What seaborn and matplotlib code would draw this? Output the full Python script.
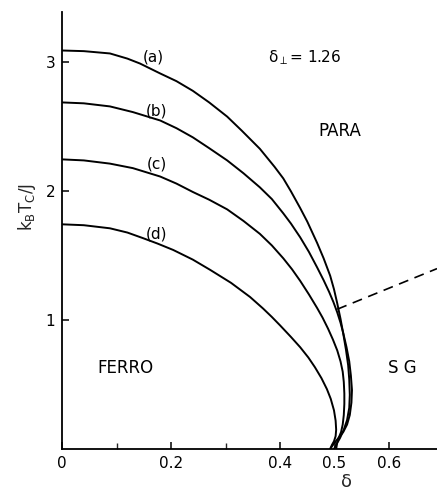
import matplotlib
matplotlib.use("Agg")
import matplotlib.pyplot as plt
import seaborn as sns
import pandas as pd

# ---- data ----
a_x = [0.0, 0.04, 0.088, 0.12, 0.143, 0.180, 0.21, 0.240, 0.27, 0.303, 0.33, 0.363, 0.39, 0.406, 0.42,
       0.437, 0.45, 0.468, 0.48, 0.492, 0.499, 0.505, 0.511, 0.516, 0.521, 0.525, 0.527, 0.528, 0.527,
       0.523, 0.517, 0.510, 0.504, 0.499]
a_y = [3.093, 3.088, 3.070, 3.03, 2.992, 2.915, 2.855, 2.78, 2.69, 2.58, 2.47, 2.33, 2.19, 2.1, 2.0,
       1.87, 1.765, 1.6, 1.48, 1.345, 1.24, 1.13, 1.01, 0.895, 0.77, 0.65, 0.54, 0.42, 0.32,
       0.225, 0.15, 0.085, 0.04, 0.0]

b_x = [0.0, 0.04, 0.088, 0.13, 0.18, 0.21, 0.240, 0.27, 0.303, 0.333, 0.363, 0.385, 0.406, 0.42, 0.437,
       0.453, 0.468, 0.48, 0.49, 0.498, 0.505, 0.511, 0.516, 0.522, 0.527, 0.530, 0.532, 0.531, 0.528,
       0.523, 0.516, 0.508, 0.501, 0.496, 0.492]
b_y = [2.690, 2.683, 2.659, 2.615, 2.550, 2.49, 2.419, 2.335, 2.240, 2.14, 2.031, 1.94, 1.829, 1.75, 1.643,
       1.53, 1.41, 1.31, 1.22, 1.14, 1.06, 0.98, 0.9, 0.79, 0.68, 0.57, 0.457, 0.36, 0.264,
       0.19, 0.132, 0.09, 0.054, 0.025, 0.0]

c_x = [0.0, 0.04, 0.088, 0.13, 0.18, 0.21, 0.24, 0.27, 0.303, 0.333, 0.363, 0.385, 0.406, 0.422, 0.437,
       0.453, 0.468, 0.478, 0.488, 0.497, 0.505, 0.511, 0.515, 0.517, 0.518, 0.518, 0.517, 0.515, 0.512,
       0.508, 0.505, 0.503]
c_y = [2.248, 2.24, 2.215, 2.18, 2.115, 2.06, 1.995, 1.935, 1.86, 1.77, 1.67, 1.58, 1.48, 1.395, 1.305,
       1.2, 1.095, 1.02, 0.935, 0.85, 0.765, 0.68, 0.6, 0.52, 0.43, 0.35, 0.264, 0.19, 0.132,
       0.09, 0.054, 0.0]

d_x = [0.0, 0.04, 0.088, 0.12, 0.149, 0.175, 0.204, 0.24, 0.272, 0.31, 0.345, 0.369, 0.385, 0.400, 0.42,
       0.437, 0.452, 0.464, 0.476, 0.486, 0.493, 0.499, 0.502, 0.503, 0.502, 0.499, 0.495, 0.492]
d_y = [1.744, 1.737, 1.713, 1.68, 1.636, 1.595, 1.545, 1.47, 1.39, 1.29, 1.18, 1.09, 1.025, 0.96, 0.87,
       0.79, 0.71, 0.635, 0.55, 0.465, 0.39, 0.30, 0.22, 0.15, 0.10, 0.06, 0.03, 0.0]

sg_x = [0.505, 0.688]
sg_y = [1.085, 1.400]

curve_names = ["(a)", "(b)", "(c)", "(d)"]
x_ticks = [0, 0.2, 0.4, 0.5, 0.6]
x_tick_labels = ["0", "0.2", "0.4", "0.5", "0.6"]
x_minor = [0.1, 0.3]
y_ticks = [1, 2, 3]
y_tick_labels = ["1", "2", "3"]

# ---- figure ----
sns.set_theme(style="ticks")
plt.rcParams["font.family"] = ["DejaVu Sans"]

fig = plt.figure(figsize=(4.37, 4.93), dpi=100)
ax = fig.add_axes([0.1419, 0.0892, 0.8581, 0.886])

rows = []
for name, xs, ys in zip(curve_names, [a_x, b_x, c_x, d_x], [a_y, b_y, c_y, d_y]):
    for i, (xx, yy) in enumerate(zip(xs, ys)):
        rows.append({"curve": name, "order": i, "delta": xx, "T": yy})
df = pd.DataFrame(rows)

for name in curve_names:
    sub = df[df["curve"] == name]
    sns.lineplot(data=sub, x="delta", y="T", sort=False, estimator=None,
                 color="black", lw=1.4, ax=ax)

sg_df = pd.DataFrame({"delta": sg_x, "T": sg_y})
sns.lineplot(data=sg_df, x="delta", y="T", sort=False, estimator=None,
             color="black", lw=1.2, ax=ax, linestyle=(0, (6, 4)))

ax.set_xlim(0, 0.688)
ax.set_ylim(0, 3.39)
ax.set_xlabel("")
ax.set_ylabel("")
for s in ["top", "right"]:
    ax.spines[s].set_visible(False)
for s in ["left", "bottom"]:
    ax.spines[s].set_linewidth(1.3)
    ax.spines[s].set_color("black")

ax.set_xticks(x_ticks)
ax.set_xticklabels(x_tick_labels)
ax.set_xticks(x_minor, minor=True)
ax.set_yticks(y_ticks)
ax.set_yticklabels(y_tick_labels)
ax.tick_params(axis="both", which="major", direction="in", length=5, width=1.1,
               labelsize=11, colors="black", pad=5)
ax.tick_params(axis="x", which="minor", direction="in", length=4, width=1.0)
ax.tick_params(axis="y", pad=5)

# region labels
txt = dict(color="black", ha="center", va="center")
ax.text(0.167, 3.04, "(a)", fontsize=11, **txt)
ax.text(0.174, 2.62, "(b)", fontsize=11, **txt)
ax.text(0.174, 2.21, "(c)", fontsize=11, **txt)
ax.text(0.174, 1.67, "(d)", fontsize=11, **txt)
ax.text(0.446, 3.04, "δ$_\\perp$= 1.26", fontsize=11, **txt)
ax.text(0.51, 2.47, "PARA", fontsize=12, **txt)
ax.text(0.116, 0.63, "FERRO", fontsize=12, **txt)
ax.text(0.624, 0.63, "S G", fontsize=12, **txt)

fig.text(0.062, 0.58, r"$\mathrm{k_B T_C / J}$", rotation=90, ha="center",
         va="center", fontsize=12)
fig.text(0.794, 0.004, "δ", ha="center", va="bottom", fontsize=13)

fig.savefig("out.png", dpi=100, facecolor="white")
